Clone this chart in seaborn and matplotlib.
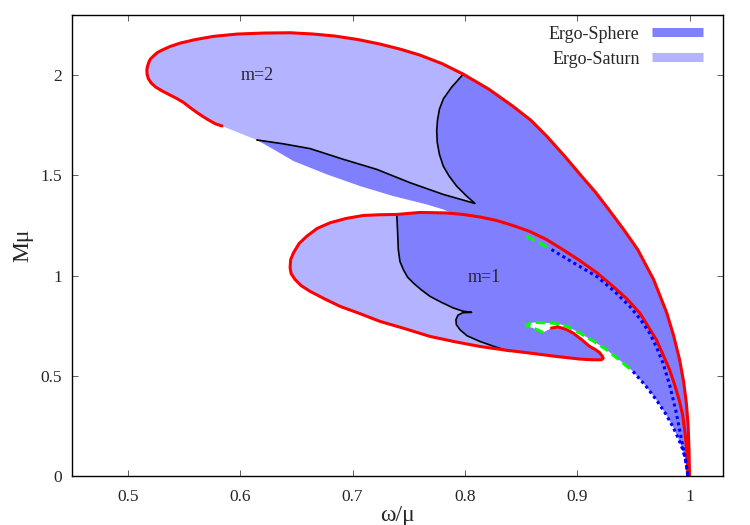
import seaborn as sns
import matplotlib
matplotlib.use("Agg")
import matplotlib.pyplot as plt
from matplotlib.lines import Line2D

# --- values (omega/mu, M mu) ---
# big outer red boundary: m=2 lobe end, round the top, down to (1, 0)
outer_w = [0.5837, 0.5778, 0.5733, 0.5671, 0.5615, 0.5556, 0.5496, 0.5436, 0.5378, 0.5304,
           0.5249, 0.5209, 0.5182, 0.5171, 0.5169, 0.5176, 0.5187, 0.520, 0.5227, 0.5262,
           0.5304, 0.5378, 0.5467, 0.560, 0.5763, 0.5973, 0.6207, 0.6444, 0.6652, 0.6844,
           0.7049, 0.7244, 0.7422, 0.760, 0.7796, 0.7985, 0.8213, 0.8427, 0.8587, 0.8729,
           0.8889, 0.904, 0.9164, 0.928, 0.9413, 0.9538, 0.968, 0.9796, 0.9858, 0.9911,
           0.9947, 0.9971, 0.9987, 0.9994, 1.0]
outer_M = [1.7465, 1.7575, 1.7715, 1.7925, 1.8135, 1.8375, 1.8635, 1.8835, 1.90, 1.9215,
           1.94, 1.96, 1.9825, 2.005, 2.0275, 2.0465, 2.065, 2.08, 2.095, 2.1125,
           2.125, 2.1435, 2.16, 2.1775, 2.1935, 2.205, 2.21, 2.2115, 2.205, 2.195,
           2.1775, 2.155, 2.13, 2.10, 2.0575, 2.005, 1.93, 1.845, 1.775, 1.695,
           1.595, 1.495, 1.415, 1.33, 1.23, 1.13, 0.98, 0.815, 0.70, 0.58,
           0.47, 0.365, 0.255, 0.145, 0.0]
outer_join = outer_w.index(0.7985)  # m=2 black curve meets the outer boundary here

# m=2 black curve: lower-left start -> cusp -> up to the outer boundary
black2_w = [0.6148, 0.6382, 0.6622, 0.6918, 0.7215, 0.7511, 0.7807, 0.8089, 0.8009, 0.7926,
            0.7858, 0.7807, 0.7773, 0.7754, 0.7749, 0.7756, 0.7773, 0.7809, 0.7882, 0.7985]
black2_M = [1.6765, 1.6575, 1.6335, 1.58, 1.53, 1.4635, 1.405, 1.36, 1.40, 1.4465,
            1.4975, 1.5465, 1.605, 1.6635, 1.72, 1.775, 1.83, 1.8825, 1.94, 2.005]

# lower edge of the m=2 band (no stroke), ends on the m=1 boundary
band_w = [0.5837, 0.6148, 0.6311, 0.6474, 0.6771, 0.7067, 0.7363, 0.766, 0.7807, 0.7884]
band_M = [1.7465, 1.6765, 1.625, 1.5715, 1.505, 1.4465, 1.3965, 1.355, 1.33, 1.3125]

# m=1 red boundary: upper branch from (1, 0) to the top, the left end, the tail
m1_up_w = [0.9985, 0.9978, 0.9963, 0.9938, 0.9907, 0.9867, 0.9822, 0.976, 0.9704, 0.9627,
           0.9556, 0.944, 0.9318, 0.9173, 0.9022, 0.8871, 0.8726, 0.8578, 0.8427, 0.8282,
           0.8133, 0.7982, 0.7837, 0.760, 0.7393]
m1_up_M = [0.0, 0.105, 0.1965, 0.305, 0.38, 0.455, 0.53, 0.61, 0.68, 0.75,
           0.8135, 0.885, 0.9465, 1.015, 1.075, 1.13, 1.18, 1.22, 1.25, 1.275,
           1.2925, 1.305, 1.3125, 1.315, 1.305]
m1_left_w = [0.7244, 0.7096, 0.6942, 0.680, 0.6684, 0.6593, 0.6524, 0.6474, 0.6449, 0.6444,
             0.6453, 0.6489, 0.6542, 0.6622, 0.6747, 0.6889, 0.7067, 0.7244, 0.7467, 0.7689,
             0.7911, 0.8133, 0.8356]
m1_left_M = [1.3035, 1.30, 1.285, 1.2635, 1.235, 1.1965, 1.16, 1.1135, 1.08, 1.0385,
             1.01, 0.98, 0.95, 0.9215, 0.885, 0.8465, 0.81, 0.7715, 0.735, 0.6965,
             0.67, 0.6465, 0.6285]
m1_tail_w = [0.8578, 0.880, 0.9022, 0.9129, 0.9215, 0.9231, 0.9224, 0.920, 0.9164, 0.911,
             0.904, 0.8963, 0.8898, 0.8829, 0.8771]
m1_tail_M = [0.6135, 0.5975, 0.5835, 0.58, 0.58, 0.5875, 0.5965, 0.615, 0.63, 0.6465,
             0.68, 0.7135, 0.7325, 0.7435, 0.7385]

# m=1 black curve
black1_w = [0.7393, 0.740, 0.7407, 0.7422, 0.7452, 0.7489, 0.754, 0.7609, 0.7689, 0.7787,
            0.7896, 0.7982, 0.806, 0.7982, 0.7938, 0.792, 0.7924, 0.7956, 0.8018, 0.8133,
            0.8267, 0.840]
black1_M = [1.305, 1.23, 1.13, 1.07, 1.03, 0.9925, 0.9635, 0.93, 0.8965, 0.8675,
            0.8385, 0.8225, 0.8165, 0.815, 0.8025, 0.78, 0.755, 0.73, 0.70, 0.6715,
            0.645, 0.6215]

# green dashed / blue dotted branches
green_up_w = [0.8548, 0.8658, 0.8771]
green_up_M = [1.1965, 1.165, 1.13]
blue_up_w = [0.8771, 0.8978, 0.9171, 0.9324, 0.9467, 0.9564, 0.9644, 0.9707, 0.9763, 0.9822,
             0.9876, 0.992, 0.9956, 0.9985]
blue_up_M = [1.13, 1.06, 0.9965, 0.925, 0.8465, 0.78, 0.7135, 0.64, 0.5635, 0.455,
             0.33, 0.205, 0.105, 0.0]
green_lo_w = [0.8696, 0.8622, 0.8548, 0.8578, 0.8622, 0.8726, 0.8785, 0.8844, 0.8916, 0.9022,
              0.9138, 0.926, 0.9378, 0.9496]
green_lo_M = [0.7165, 0.735, 0.75, 0.7625, 0.7665, 0.7635, 0.7625, 0.7575, 0.745, 0.7135,
              0.675, 0.63, 0.5775, 0.5215]
blue_lo_w = [0.9496, 0.9609, 0.9704, 0.9787, 0.9851, 0.9902, 0.994, 0.9969, 0.9985]
blue_lo_M = [0.5215, 0.45, 0.38, 0.31, 0.2465, 0.185, 0.13, 0.07, 0.0]

SPHERE = "#8080ff"
SATURN = "#b3b3ff"

sns.set_style("ticks")
plt.rcParams["font.family"] = ["Liberation Serif", "DejaVu Serif"]

fig = plt.figure(figsize=(7.5, 5.25), dpi=100)
ax = fig.add_axes([0.0956, 0.0933, 0.8688, 0.8781])


def poly(*parts):
    w, m = [], []
    for pw, pm in parts:
        w += list(pw)
        m += list(pm)
    return w, m


# m=2 ergo-saturn lobe
w, m = poly((outer_w[:outer_join + 1], outer_M[:outer_join + 1]),
            (black2_w[::-1], black2_M[::-1]))
ax.fill(w, m, color=SATURN, lw=0, zorder=1)

# ergo-sphere region between the outer boundary and the lower branches
w, m = poly((outer_w[outer_join:], outer_M[outer_join:]),
            (blue_lo_w[::-1], blue_lo_M[::-1]),
            (green_lo_w[:6:-1], green_lo_M[:6:-1]),
            (m1_tail_w[-2:], m1_tail_M[-2:]),
            (band_w[::-1], band_M[::-1]),
            (black2_w, black2_M))
ax.fill(w, m, color=SPHERE, lw=0, zorder=2)

# m=1 ergo-saturn part
w, m = poly(([m1_up_w[-1]], [m1_up_M[-1]]), (m1_left_w, m1_left_M),
            (black1_w[::-1], black1_M[::-1]))
ax.fill(w, m, color=SATURN, lw=0, zorder=3)

# m=1 ergo-sphere part
w, m = poly((black1_w, black1_M), (m1_tail_w, m1_tail_M),
            (m1_up_w[14:], m1_up_M[14:]))
ax.fill(w, m, color=SPHERE, lw=0, zorder=3)

# small white gap inside the green hook
w, m = poly((green_lo_w[:7], green_lo_M[:7]), (m1_tail_w[-2:], m1_tail_M[-2:]))
ax.fill(w, m, color="white", lw=0, zorder=4)


def curve(x, y, **kw):
    sns.lineplot(x=x, y=y, sort=False, estimator=None, ax=ax,
                 solid_joinstyle="round", **kw)


m1_w, m1_M = poly((m1_up_w, m1_up_M), (m1_left_w, m1_left_M), (m1_tail_w, m1_tail_M))

curve(black2_w, black2_M, color="black", lw=1.2, zorder=5)
curve(black1_w, black1_M, color="black", lw=1.2, zorder=5)
curve(outer_w, outer_M, color="red", lw=2.2, zorder=6)
curve(m1_w, m1_M, color="red", lw=2.2, zorder=6)
curve(green_up_w, green_up_M, color="#00ff00", lw=2.2, linestyle=(0, (3, 1.6)), zorder=7)
curve(green_lo_w, green_lo_M, color="#00ff00", lw=2.2, linestyle=(0, (3, 1.6)), zorder=7)
curve(blue_up_w, blue_up_M, color="blue", lw=2.2, linestyle=(0, (1, 1.1)), zorder=7)
curve(blue_lo_w, blue_lo_M, color="blue", lw=2.2, linestyle=(0, (1, 1.1)), zorder=7)

ax.text(0.615, 2.0, "m=2", fontsize=13, ha="center", va="center", zorder=8)
ax.text(0.817, 0.99, "m=1", fontsize=13, ha="center", va="center", zorder=8)

ax.set_xlim(0.45, 1.03)
ax.set_ylim(0, 2.3)
ax.set_xticks([0.5, 0.6, 0.7, 0.8, 0.9, 1.0])
ax.set_xticklabels(["0.5", "0.6", "0.7", "0.8", "0.9", "1"])
ax.set_yticks([0, 0.5, 1, 1.5, 2])
ax.set_yticklabels(["0", "0.5", "1", "1.5", "2"])
ax.tick_params(direction="in", length=4.5, width=0.6, color="#444444",
               top=True, right=True, labelsize=12.5)
ax.tick_params(axis="x", pad=9)
ax.tick_params(axis="y", pad=7)
for s in ax.spines.values():
    s.set_linewidth(1.0)
    s.set_color("black")
    s.set_zorder(10)

ax.set_xlabel("ω/μ", fontsize=17, labelpad=0)
ax.set_ylabel("Mμ", fontsize=17, labelpad=5)

handles = [Line2D([], [], color=SPHERE, lw=6.5, solid_capstyle="butt"),
           Line2D([], [], color=SATURN, lw=6.5, solid_capstyle="butt")]
ax.legend(handles, ["Ergo-Sphere", "Ergo-Saturn"], loc="upper right",
          bbox_to_anchor=(0.9693, 0.977), frameon=False, fontsize=13,
          markerfirst=False, handlelength=2.86, handletextpad=0.66,
          borderpad=0, borderaxespad=0, labelspacing=0.45)

fig.savefig("out.png", dpi=100)
